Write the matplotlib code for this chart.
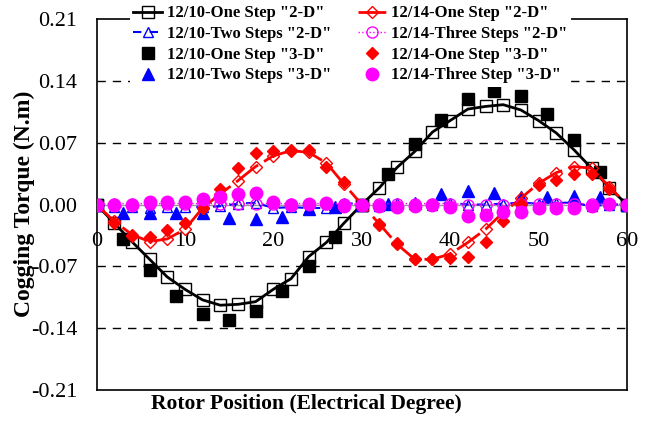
import matplotlib
matplotlib.use("Agg")
import matplotlib.pyplot as plt
import numpy as np

plt.rcParams['font.family'] = ['Liberation Serif', 'DejaVu Serif']

# rotor position grids (electrical degrees)
pos_2deg = np.arange(0, 61, 2)
pos_3deg = np.arange(0, 61, 3)

# 12/10 machine
one_step_2d_1210 = [0, -0.021, -0.042, -0.062, -0.082, -0.096, -0.108, -0.114, -0.113, -0.110,
                    -0.096, -0.084, -0.059, -0.043, -0.021, 0, 0.019, 0.042, 0.060, 0.082,
                    0.095, 0.108, 0.111, 0.113, 0.107, 0.095, 0.081, 0.062, 0.041, 0.019, 0]
two_steps_2d_1210 = [0, -0.003, -0.003, -0.004, -0.003, -0.003, -0.003, -0.002, 0.001, 0.002,
                     -0.004, -0.003, -0.004, -0.004, 0.002, 0, -0.002, 0.002, 0.001, 0.0,
                     0.002, 0.0, 0.0, 0.001, 0.002, 0.001, 0.002, 0.002, -0.002, 0.0, 0]
one_step_3d_1210 = [0, -0.039, -0.074, -0.104, -0.124, -0.131, -0.120, -0.098, -0.070, -0.037, 0,
                    0.035, 0.069, 0.096, 0.119, 0.129, 0.123, 0.103, 0.073, 0.037, 0]
two_steps_3d_1210 = [0, -0.010, -0.010, -0.010, -0.010, -0.015, -0.016, -0.014, -0.005, -0.003, 0,
                     0.001, 0.002, 0.012, 0.015, 0.013, 0.009, 0.009, 0.010, 0.008, 0]

# 12/14 machine
one_step_2d_1214 = [0, -0.019, -0.034, -0.042, -0.039, -0.028, -0.004, 0.012, 0.027, 0.043,
                    0.055, 0.061, 0.059, 0.047, 0.023, 0, -0.022, -0.045, -0.062, -0.062,
                    -0.056, -0.043, -0.028, -0.009, 0.007, 0.024, 0.036, 0.043, 0.041, 0.020, 0]
three_steps_2d_1214 = [0, 0.001, 0.001, 0.001, 0.001, 0.001, 0.001, 0.001, 0.001, 0.001,
                       0.001, 0.001, 0.001, 0.001, 0.001, 0, 0.001, 0.001, 0.001, 0.001,
                       0.001, 0.0, 0.0, 0.0, 0.001, 0.001, 0.001, 0.001, 0.001, 0.001, 0]
one_step_3d_1214 = [0, -0.021, -0.036, -0.037, -0.029, -0.021, -0.004, 0.018, 0.041, 0.058,
                    0.060, 0.062, 0.062, 0.043, 0.025, 0, -0.023, -0.044, -0.062, -0.062,
                    -0.060, -0.059, -0.042, -0.019, 0.001, 0.022, 0.028, 0.035, 0.035, 0.018, 0]
three_step_3d_1214 = [0, 0, 0, 0.003, 0.003, 0.003, 0.006, 0.009, 0.012, 0.013,
                      0.003, 0, 0.001, 0.002, -0.002, 0, -0.002, -0.003, -0.002, 0,
                      -0.003, -0.013, -0.012, -0.008, -0.008, -0.004, -0.004, -0.004, -0.002, 0.001, 0]

yticks = [-0.21, -0.14, -0.07, 0.0, 0.07, 0.14, 0.21]
ytick_labels = ['-0.21', '-0.14', '-0.07', '0.00', '0.07', '0.14', '0.21']
xticks = [0, 10, 20, 30, 40, 50, 60]

fig = plt.figure(figsize=(6.61, 4.21), dpi=100)
ax = fig.add_axes([0.146, 0.0736, 0.8025, 0.8813])

ax.plot(pos_2deg, one_step_2d_1210, color='black', lw=2, marker='s', ms=8,
        mfc='none', mec='black', mew=1, label='12/10-One Step "2-D"', zorder=3)
ax.plot(pos_2deg, two_steps_2d_1210, color='blue', lw=1.5, ls=(0, (4, 4)), marker='^', ms=7,
        mfc='none', mec='blue', mew=1, label='12/10-Two Steps "2-D"', zorder=3)
ax.plot(pos_3deg, one_step_3d_1210, ls='none', marker='s', ms=8, color='black',
        label='12/10-One Step "3-D"', zorder=3)
ax.plot(pos_3deg, two_steps_3d_1210, ls='none', marker='^', ms=8, color='blue',
        label='12/10-Two Steps "3-D"', zorder=3)
ax.plot(pos_2deg, one_step_2d_1214, color='red', lw=2, ls=(0, (10, 2.5)), marker='D', ms=6,
        mfc='none', mec='red', mew=1, label='12/14-One Step "2-D"', zorder=4)
ax.plot(pos_2deg, three_steps_2d_1214, color='magenta', lw=1, ls=':', marker='o', ms=8,
        mfc='none', mec='magenta', mew=1, label='12/14-Three Steps "2-D"', zorder=4)
ax.plot(pos_2deg, one_step_3d_1214, ls='none', marker='D', ms=6.5, color='red',
        label='12/14-One Step "3-D"', zorder=4)
ax.plot(pos_2deg, three_step_3d_1214, ls='none', marker='o', ms=9, color='magenta',
        label='12/14-Three Step "3-D"', zorder=5)

ax.set_xlim(0, 60)
ax.set_ylim(-0.21, 0.21)

# dashed grid at the non-zero ticks
for y in [-0.14, -0.07, 0.07, 0.14]:
    ax.axhline(y, color='black', lw=1, ls=(0, (6, 5)), zorder=1)

# x axis runs through zero; box closed at the bottom
ax.spines['bottom'].set_position(('data', 0))
ax.spines['bottom'].set_color('#999999')
ax.spines['bottom'].set_linewidth(1)
ax.axhline(-0.21, color='black', lw=1.2, clip_on=False, zorder=2)
for s in ['left', 'right', 'top']:
    ax.spines[s].set_linewidth(1.2)

ax.set_xticks(xticks)
ax.set_yticks(yticks)
ax.set_yticklabels(ytick_labels)
ax.tick_params(axis='both', length=0, labelsize=16)
ax.tick_params(axis='x', pad=20)
ax.tick_params(axis='y', pad=14)

fig.text(0.463, 0.041, 'Rotor Position (Electrical Degree)', ha='center', va='center',
         fontsize=15.5, fontweight='bold')
fig.text(0.037, 0.515, 'Cogging Torque (N.m)', ha='center', va='center', rotation=90,
         fontsize=17, fontweight='bold')

leg = ax.legend(ncol=2, loc='upper center', bbox_to_anchor=(0.53, 0.995),
                bbox_transform=fig.transFigure, frameon=True, fancybox=False,
                edgecolor='none', facecolor='white', framealpha=1,
                prop={'size': 12, 'weight': 'bold'}, handlelength=1.75,
                handletextpad=0.25, columnspacing=1.6, labelspacing=0.28,
                borderpad=0.2, borderaxespad=0)
leg.set_zorder(10)

fig.savefig('out.png', dpi=100)
